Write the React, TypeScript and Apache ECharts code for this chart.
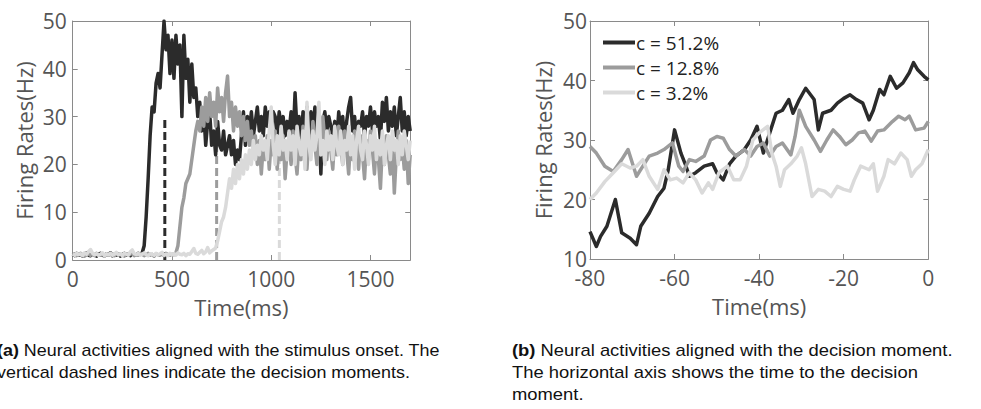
import React, { useEffect, useRef } from 'react';
import * as echarts from 'echarts';

// ---------- Panel (a): aligned with stimulus onset, sampled every 10 ms ----------
const STEP_A_MS = 10;
const darkA = [
  1.2, 0.9, 1.4, 1.0, 1.3, 0.8, 1.1, 1.5, 1.0, 0.9, 1.3, 1.1, 0.8, 1.2, 1.4, 1.0, 0.9, 1.3, 1.1, 1.5,
  0.9, 1.2, 1.0, 1.3, 0.8, 1.1, 1.4, 1.0, 1.2, 0.9, 1.3, 1.1, 1.0, 1.4, 1.2,
  1.5, 3, 9, 17, 26, 32, 31, 37, 39, 36,
  43, 50, 44, 47, 39, 46, 38, 47, 41, 45,
  30, 47, 38, 42, 33, 41, 34, 36, 30, 33,
  27, 31, 24, 29, 31, 24, 27, 22, 29, 24,
  23, 27, 22, 24, 26, 22, 25, 20, 23, 21,
  26, 31, 24, 30, 27, 31, 26, 29, 32, 27,
  30, 26, 32, 28, 31, 27, 31, 30, 26, 31,
  28, 30, 26, 29, 27, 31, 25, 35, 27, 30,
  24, 31, 28, 32, 26, 31, 27, 32, 25, 29,
  18, 29, 31, 27, 30, 28, 26, 29, 25, 31,
  27, 30, 24, 29, 32, 34, 27, 30, 25, 29,
  28, 31, 26, 30, 28, 32, 27, 31, 28, 30,
  25, 33, 29, 34, 27, 31, 28, 32, 26, 30,
  34, 27, 31, 26, 30, 27,
];
const grayA = [
  1.0, 1.3, 0.9, 1.2, 1.4, 1.0, 0.8, 1.1, 1.3, 1.0, 1.2, 0.9, 1.4, 1.1, 1.0, 1.3, 0.8, 1.2, 1.0, 1.4,
  1.1, 0.9, 1.3, 1.0, 1.2, 1.1, 0.8, 1.3, 1.0, 1.2, 1.4, 0.9, 1.1, 1.0, 1.3, 1.2, 0.9, 1.1, 1.4, 1.0,
  1.2, 0.8, 1.3, 1.1, 1.0, 1.2, 0.9, 1.4, 1.1, 1.0, 1.2, 1.1,
  1.5, 3, 7, 11, 13, 16, 17, 18,
  21, 24, 27, 29, 27, 32, 28, 34, 29, 35,
  30, 33, 28, 36, 31, 34, 29, 35, 38.5, 30,
  33, 27, 32, 28, 31, 26, 30, 25, 29, 24,
  27, 22, 26, 20, 25, 18, 24, 21, 26, 19,
  25, 22, 27, 19, 24, 21, 26, 17, 23, 25,
  20, 27, 22, 18, 25, 21, 28, 23, 19, 26,
  22, 29, 24, 20, 26, 22, 30, 25, 21, 27,
  23, 19, 26, 22, 28, 24, 20, 27, 23, 18,
  25, 21, 27, 24, 19, 26, 22, 17, 25, 21,
  27, 23, 18, 25, 21, 15, 24, 20, 26, 22,
  18, 25, 14, 22, 27, 21, 24, 19, 25, 16,
  22,
];
const lightA = [
  1.2, 1.0, 1.4, 1.1, 1.3, 0.9, 1.5, 1.2, 1.8, 2.2,
  1.4, 1.1, 1.3, 1.0, 1.2, 1.5, 0.9, 1.3, 1.1, 1.4,
  1.0, 1.2, 1.6, 1.1, 1.3, 0.9, 1.4, 1.2, 1.0, 1.7,
  2.1, 1.3, 1.1, 1.4, 1.0, 1.2, 1.5, 1.1, 0.9, 1.3,
  1.2, 1.0, 1.4, 1.1, 1.3, 1.6, 1.0, 1.2, 0.9, 1.4,
  1.1, 1.3, 1.0, 1.5, 1.2, 1.1, 1.4, 0.9, 1.3, 1.2,
  1.8, 2.4, 1.4, 1.2, 1.6, 2.0, 1.3, 1.7, 2.6, 1.5,
  1.9, 2.2,
  2.5, 4, 6, 8, 9, 11, 14, 17,
  15, 19, 16, 20, 17, 21, 18, 22, 19, 23,
  20, 25, 21, 24, 22, 26, 23, 25, 21, 27,
  32, 24, 20, 26, 22, 28, 23, 25, 21, 27,
  23, 26, 20, 28, 24, 22, 27, 19, 33, 24,
  21, 27, 23, 26, 33, 22, 25, 20, 27, 23,
  26, 21, 28, 24, 22, 27, 20, 25, 23, 28,
  22, 26, 19, 25, 28, 23, 21, 27, 24, 20,
  26, 23, 28, 21, 25, 22, 27, 20, 24, 26,
  21, 27, 23, 25, 20, 26, 22, 27, 24, 21,
  25,
];
const decisionTimesA = [464, 725, 1041];
const decisionThreshold = 30;

// ---------- Panel (b): aligned with decision moment ----------
const darkBT = [-80, -78.5, -77.5, -76, -74, -72.5, -70.5, -69, -68, -66, -64, -62.5, -61.5, -60, -58.5, -57.5, -56.5, -55, -53, -51, -50, -48.5, -47, -45.5, -43.5, -42, -40.5, -39, -37.5, -36, -34.5, -33, -32, -30.5, -29, -27, -26, -25, -23, -21.5, -20, -18.5, -17, -15.5, -14, -13, -11.5, -10.5, -9, -7.5, -6, -4.5, -3.5, -2.5, -1, 0];
const darkBV = [14.6, 12.1, 13.8, 15.5, 20, 14.4, 13.5, 12.4, 15.5, 17.7, 20.5, 21.9, 25, 31.7, 27.8, 26, 23.9, 24.5, 25.6, 26, 24.5, 23.3, 26, 27.3, 28.4, 30, 32.3, 27.8, 31.2, 34.5, 35, 36.8, 34.5, 36.8, 38.7, 36.8, 31.7, 34.5, 35, 36.2, 37, 37.6, 36.8, 36.2, 33.4, 35, 38.5, 37.6, 40.7, 38.7, 39.6, 41.3, 43, 41.8, 40.7, 40.1];
const grayBT = [-80, -78.5, -76.5, -74.5, -72.5, -71, -69, -67.5, -66, -64, -62.5, -60.5, -59, -58, -56.5, -55, -53, -51.5, -50, -48.5, -47, -45.5, -43.5, -42, -40.5, -39, -37.5, -36, -34.5, -32.5, -31.5, -30.5, -29, -27, -25.5, -24, -22.5, -21, -19.5, -18, -16.5, -15, -13.5, -12, -10.5, -8.5, -7, -5.5, -4.5, -3, -1, 0];
const grayBV = [28.9, 27.8, 25.6, 24.7, 26.7, 28.4, 23.9, 25.6, 27.3, 27.8, 28.4, 29.5, 25.6, 24.7, 26.7, 26.4, 27.3, 30, 30.6, 30.3, 28.4, 27.3, 28.4, 27.3, 28.9, 29.5, 27.3, 28.9, 29.5, 27.5, 30.6, 35, 32.3, 30, 28.1, 30, 31.7, 30.6, 29.2, 30, 31.2, 31.5, 29.8, 31.5, 31.7, 33.1, 34, 33.4, 34, 31.7, 32, 33.1];
const lightBT = [-80, -78.5, -76.5, -74.5, -72.5, -70.5, -69, -67.5, -66, -64, -62.5, -61, -59.5, -58, -56.5, -55, -53.5, -52, -51, -49.5, -47.5, -46, -44.5, -43, -41.5, -40, -38, -37, -36, -35, -34, -32.5, -31, -30, -29, -27.5, -26, -24.5, -23, -21.5, -20, -18.5, -17.5, -16, -14, -13, -12, -10.5, -9.5, -8, -6.5, -5, -4, -3, -1.5, 0];
const lightBV = [20, 21.1, 23, 24.5, 26, 25.3, 25.6, 26.7, 23.9, 21.7, 25, 23.3, 23.6, 22.8, 24.5, 23.3, 21.1, 22.8, 21.7, 24.5, 25.6, 23.3, 23.3, 25.6, 30, 31.2, 32.3, 27.8, 25.6, 22.2, 25, 26, 27.3, 28.7, 26, 20.5, 21.7, 21.4, 20.5, 22.2, 21.7, 21.4, 23.3, 25.6, 25, 26, 21.4, 23.9, 26.7, 26, 27.8, 26.7, 23.9, 25, 26, 28.4];

const seriesNames = ['c = 51.2%', 'c = 12.8%', 'c = 3.2%'];
const seriesColors = ['#2b2b2b', '#9c9c9c', '#dadada'];

const captionA = ['{b|(a)} Neural activities aligned with the stimulus onset. The', 'vertical dashed lines indicate the decision moments.'];
const captionB = ['{b|(b)} Neural activities aligned with the decision moment.', 'The horizontal axis shows the time to the decision', 'moment.'];

const FONT = "'Open Sans', 'DejaVu Sans', sans-serif";
const CAP_FONT = "'Liberation Sans', Arial, sans-serif";
const AXIS = '#8a8a8a';
const TXT = '#555555';

function pairsFromSteps(vals: number[], step: number) {
  return vals.map((v, i) => [i * step, v]);
}
function pairs(t: number[], v: number[]) {
  return t.map((x, i) => [x, v[i]]);
}

function makeAxes(gridIndex: number, isX: boolean, min: number, max: number, interval: number, name: string, nameGap: number, labelMargin: number) {
  const common = {
    gridIndex,
    type: 'value' as const,
    min,
    max,
    interval,
    splitLine: { show: false },
    axisLine: { show: true, onZero: false, lineStyle: { color: AXIS, width: 1 } },
    axisTick: { show: true, inside: true, length: 5, lineStyle: { color: AXIS } },
  };
  return [
    {
      ...common,
      position: isX ? 'bottom' : 'left',
      axisLabel: {
        show: true,
        fontSize: 21,
        color: TXT,
        fontFamily: FONT,
        margin: labelMargin,
        showMaxLabel: isX ? max % interval === 0 : true,
        formatter: (v: number) => String(v),
      },
      name,
      nameLocation: 'middle',
      nameGap,
      nameTextStyle: { fontSize: 22, color: TXT, fontFamily: FONT },
    },
    {
      ...common,
      position: isX ? 'top' : 'right',
      axisLabel: { show: false },
    },
  ];
}

export default function App() {
  const ref = useRef<HTMLDivElement>(null);
  useEffect(() => {
    if (!ref.current) return;
    const chart = echarts.init(ref.current, undefined, { renderer: 'svg' });

    const aSeries = [darkA, grayA, lightA];
    const bSeries = [pairs(darkBT, darkBV), pairs(grayBT, grayBV), pairs(lightBT, lightBV)];

    const series: any[] = [];
    decisionTimesA.forEach((t, i) => {
      series.push({
        type: 'line',
        name: 'decision ' + seriesNames[i],
        xAxisIndex: 0,
        yAxisIndex: 0,
        data: [[t, 0], [t, decisionThreshold]],
        symbol: 'none',
        lineStyle: { color: seriesColors[i], width: 3, type: [8, 4] },
        silent: true,
      });
    });
    aSeries.forEach((vals, i) => {
      series.push({
        type: 'line',
        name: seriesNames[i],
        xAxisIndex: 0,
        yAxisIndex: 0,
        data: pairsFromSteps(vals, STEP_A_MS),
        symbol: 'none',
        showSymbol: false,
        lineStyle: { color: seriesColors[i], width: 3.5, join: 'round' },
        itemStyle: { color: seriesColors[i] },
      });
    });
    bSeries.forEach((data, i) => {
      series.push({
        type: 'line',
        name: seriesNames[i],
        xAxisIndex: 2,
        yAxisIndex: 2,
        data,
        symbol: 'none',
        showSymbol: false,
        lineStyle: { color: seriesColors[i], width: 3.5, join: 'round' },
        itemStyle: { color: seriesColors[i] },
      });
    });

    const capStyle = (text: string) => ({
      text,
      fontSize: 16,
      fontFamily: CAP_FONT,
      fill: '#111',
      verticalAlign: 'middle',
      align: 'left',
      rich: { b: { fontSize: 16, fontFamily: CAP_FONT, fontWeight: 'bold', fill: '#111' } },
    });
    const lineYs = [350.5, 372.5, 394.5];
    const graphic: any[] = [];
    captionA.forEach((t, i) => graphic.push({ type: 'text', x: -3, y: lineYs[i], scaleX: 1.12, style: capStyle(t) }));
    captionB.forEach((t, i) => graphic.push({ type: 'text', x: 512, y: lineYs[i], scaleX: 1.15, style: capStyle(t) }));

    chart.setOption({
      animation: false,
      backgroundColor: '#ffffff',
      grid: [
        { left: 72.7, top: 21, width: 337.5, height: 239 },
        { left: 590, top: 21, width: 338.3, height: 238 },
      ],
      xAxis: [
        ...makeAxes(0, true, 0, 1700, 500, 'Time(ms)', 36, 8),
        ...makeAxes(1, true, -80, 0, 20, 'Time(ms)', 36, 8),
      ],
      yAxis: [
        ...makeAxes(0, false, 0, 50, 10, 'Firing Rates(Hz)', 38, 6),
        ...makeAxes(1, false, 10, 50, 10, 'Firing Rates(Hz)', 36, 3),
      ],
      legend: {
        orient: 'vertical',
        left: 603,
        top: 33,
        padding: 0,
        itemWidth: 32,
        itemHeight: 4,
        itemGap: 6,
        icon: 'rect',
        data: seriesNames,
        textStyle: { fontSize: 19, color: '#222', fontFamily: FONT, padding: [0, 0, 0, -4] },
      },
      series,
      graphic,
    });
    return () => chart.dispose();
  }, []);
  return <div ref={ref} style={{ position: 'fixed', left: 0, top: 0, width: 981, height: 409, background: '#fff' }} />;
}
